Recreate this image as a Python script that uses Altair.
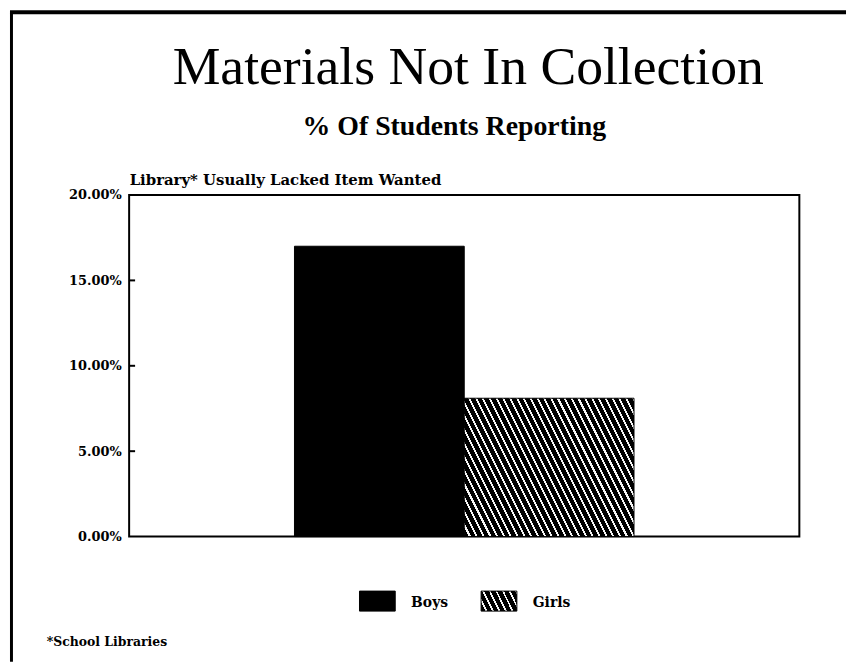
import math
import altair as alt
import pandas as pd

# ---- data ----
categories = ["Boys", "Girls"]
percent_reporting = [17.0, 8.1]
y_ticks = [0, 5, 10, 15, 20]
inner_ticks = [5, 10, 15]
title_text = "Materials Not In Collection"
subtitle_text = "% Of Students Reporting"
axis_title = "Library* Usually Lacked Item Wanted"
footnote_text = "*School Libraries"

PLOT_W, PLOT_H = 675, 344
Y_MAX = 20


def hatch(w, h, period=6.1, black=0.7):
    """Linear gradient that looks like '\\\\' hatching on a w x h box."""
    gx, gy = 2 * w / h, -1.0
    lam = (2 * w / h + 1) / (gx * gx + gy * gy)
    x1, y1 = 0.0, 1.0
    x2, y2 = x1 + lam * gx, y1 + lam * gy
    extent = (2 * w + h) / math.sqrt(5)
    n = max(1, round(extent / period))
    stops = []
    for i in range(n):
        a, b, c = i / n, (i + black) / n, (i + 1) / n
        stops += [
            {"offset": a, "color": "black"},
            {"offset": b, "color": "black"},
            {"offset": b, "color": "#f6f6f6"},
            {"offset": c, "color": "#f6f6f6"},
        ]
    return {"gradient": "linear", "x1": x1, "y1": y1, "x2": x2, "y2": y2, "stops": stops}


bar_w = PLOT_W / (2 + 2 * 0.974)
girls_h = percent_reporting[1] / Y_MAX * PLOT_H
bar_hatch = hatch(bar_w, girls_h)
legend_hatch = hatch(36, 20)

df = pd.DataFrame({"sex": categories, "pct": percent_reporting})
ticks_df = pd.DataFrame({"pct": inner_ticks})
one = pd.DataFrame({"k": [0]})

SERIF_B = "DejaVu Serif"

bars = alt.Chart(df).mark_bar(stroke="black", strokeWidth=1).encode(
    x=alt.X("sex:N", sort=categories,
            scale=alt.Scale(paddingInner=0, paddingOuter=0.974), axis=None),
    y=alt.Y("pct:Q", scale=alt.Scale(domain=[0, Y_MAX], nice=False),
            axis=alt.Axis(values=y_ticks,
                          labelExpr="format(datum.value, '.2f') + '%'",
                          tickSize=0, domain=False, grid=False, labelPadding=8,
                          labelFont=SERIF_B, labelFontWeight="bold",
                          labelFontSize=13, labelColor="black",
                          title=axis_title, titleAngle=0, titleX=0, titleY=-11,
                          titleAlign="left", titleBaseline="alphabetic",
                          titleFont=SERIF_B, titleFontWeight="bold",
                          titleFontSize=15, titleColor="black")),
    fill=alt.condition(alt.datum.sex == "Boys", alt.value("black"), alt.value(bar_hatch)),
)

ticks = alt.Chart(ticks_df).mark_rule(color="black", strokeWidth=2).encode(
    y=alt.Y("pct:Q"), x=alt.value(0), x2=alt.value(6)
)

# page border (top and left edges of the scanned sheet)
border_left = alt.Chart(one).mark_rule(color="black", strokeWidth=3).encode(
    x=alt.value(-118.5), y=alt.value(-184), y2=alt.value(470)
)
border_top = alt.Chart(one).mark_rule(color="black", strokeWidth=4).encode(
    x=alt.value(-120), x2=alt.value(722), y=alt.value(-184)
)

title_df = pd.DataFrame({"t": [title_text]})
subtitle_df = pd.DataFrame({"t": [subtitle_text]})
foot_df = pd.DataFrame({"t": [footnote_text]})

title_mark = alt.Chart(title_df).mark_text(
    font="Liberation Serif", fontSize=54, color="black", align="center", baseline="alphabetic"
).encode(x=alt.value(PLOT_W / 2 + 4), y=alt.value(-112), text="t:N")

subtitle_mark = alt.Chart(subtitle_df).mark_text(
    font="Liberation Serif", fontSize=28, fontWeight="bold", color="black",
    align="center", baseline="alphabetic"
).encode(x=alt.value(PLOT_W / 2 - 10), y=alt.value(-60), text="t:N")

foot_mark = alt.Chart(foot_df).mark_text(
    font=SERIF_B, fontSize=12.5, fontWeight="bold", color="black",
    align="left", baseline="alphabetic"
).encode(x=alt.value(-83), y=alt.value(454), text="t:N")

legend_x = alt.X("sex:N", sort=categories,
                 scale=alt.Scale(type="point", domain=categories, range=[250, 372.5], padding=0),
                 axis=None)

legend_sym = alt.Chart(df).mark_point(
    shape="M-1,-0.56H1V0.56H-1Z", size=1296, filled=True, opacity=1,
    stroke="black", strokeWidth=1
).encode(
    x=legend_x, y=alt.value(409),
    fill=alt.condition(alt.datum.sex == "Boys", alt.value("black"), alt.value(legend_hatch)),
)

legend_txt = alt.Chart(df).mark_text(
    font=SERIF_B, fontSize=14, fontWeight="bold", color="black",
    align="left", baseline="middle", dx=34
).encode(x=legend_x, y=alt.value(411), text="sex:N")

chart = alt.layer(
    bars, ticks, border_left, border_top, title_mark, subtitle_mark,
    foot_mark, legend_sym, legend_txt
).resolve_scale(x="independent").properties(
    width=PLOT_W, height=PLOT_H, padding=0, background="white"
).configure_view(stroke="black", strokeWidth=2)

chart.save("out.html", embed_options={"renderer": "svg", "actions": False})
